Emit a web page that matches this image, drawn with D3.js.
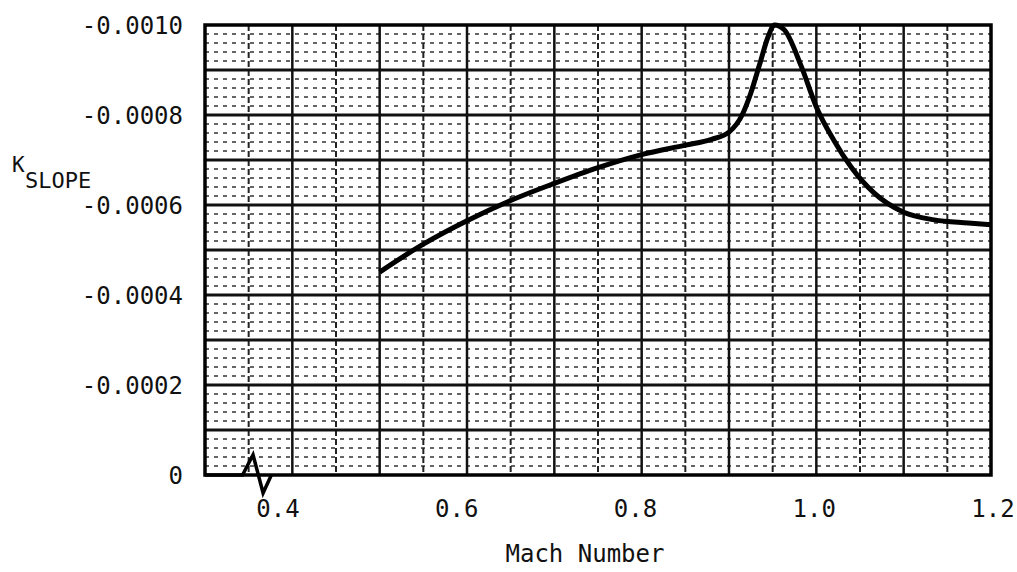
<!DOCTYPE html>
<head>
<meta charset="utf-8">
<title>K slope vs Mach</title>
<script src="https://d3js.org/d3.v7.min.js"></script>
<style>
body { margin: 0; background: #fff; }
text { font-family: "DejaVu Sans Mono", "Liberation Mono", monospace; fill: #111; }
</style>
</head>
<body>
<div id="container"></div>
<script>
//-----------------------------DATA-----------------------------//
const machTicks = [0.4, 0.6, 0.8, 1.0, 1.2];
const machTickLabels = ["0.4", "0.6", "0.8", "1.0", "1.2"];
const kTicks = [-0.0010, -0.0008, -0.0006, -0.0004, -0.0002, 0];
const kTickLabels = ["-0.0010", "-0.0008", "-0.0006", "-0.0004", "-0.0002", "0"];

// main curve
const curveMach = [0.50, 0.55, 0.60, 0.65, 0.70, 0.75, 0.80, 0.85, 0.88, 0.90, 0.915, 0.925, 0.935,
                   0.945, 0.952, 0.963, 0.983, 1.00, 1.02, 1.04, 1.066, 1.10, 1.135, 1.174, 1.20];
const curveK    = [-0.000451, -0.000513, -0.000565, -0.000610, -0.000648, -0.000683, -0.000712, -0.000733,
                   -0.000746, -0.000762, -0.000800, -0.000849, -0.000912, -0.000975, -0.001000, -0.000990,
                   -0.000907, -0.000818, -0.000744, -0.000684, -0.000627, -0.000584, -0.000567, -0.000560, -0.000556];

// little glitch drawn on the zero line
const zeroMach = [0.30, 0.343, 0.355, 0.3665, 0.376];
const zeroK    = [0, 0, -0.000045, 0.00004, 0];

//-----------------------------SVG------------------------------//
const width = 1017;
const height = 572;
const svg = d3.select("#container").append("svg")
    .attr("width", width)
    .attr("height", height);

//----------------------------SCALES----------------------------//
const xScale = d3.scaleLinear().domain([0.3, 1.2]).range([205, 991]);
const yScale = d3.scaleLinear().domain([0, -0.0010]).range([475, 25]);
// typed labels under the paper do not sit exactly on the grid
const labelScale = d3.scaleLinear().domain([0.4, 1.2]).range([278, 993]);

//----------------------------GRIDS-----------------------------//
// minor horizontal dotted lines every 0.00002
const minorY = d3.range(0, 51).map(i => -i * 0.00002).filter((d, i) => i % 5 !== 0);
svg.append("g")
    .selectAll("line")
    .data(minorY)
    .join("line")
    .attr("x1", xScale(0.3))
    .attr("x2", xScale(1.2))
    .attr("y1", d => yScale(d))
    .attr("y2", d => yScale(d))
    .attr("stroke", "#333")
    .attr("stroke-width", 1.6)
    .attr("stroke-dasharray", "4,5");

// half-way vertical dashed lines
const midX = d3.range(0, 9).map(i => 0.35 + i * 0.1);
svg.append("g")
    .selectAll("line")
    .data(midX)
    .join("line")
    .attr("x1", d => xScale(d))
    .attr("x2", d => xScale(d))
    .attr("y1", yScale(-0.0010))
    .attr("y2", yScale(0))
    .attr("stroke", "#222")
    .attr("stroke-width", 2)
    .attr("stroke-dasharray", "6,3");

// major lines
const majorX = d3.range(1, 9).map(i => 0.3 + i * 0.1);
svg.append("g")
    .selectAll("line")
    .data(majorX)
    .join("line")
    .attr("x1", d => xScale(d))
    .attr("x2", d => xScale(d))
    .attr("y1", yScale(-0.0010))
    .attr("y2", yScale(0))
    .attr("stroke", "#111")
    .attr("stroke-width", 2.5);

const majorY = d3.range(1, 10).map(i => -i * 0.0001);
svg.append("g")
    .selectAll("line")
    .data(majorY)
    .join("line")
    .attr("x1", xScale(0.3))
    .attr("x2", xScale(1.2))
    .attr("y1", d => yScale(d))
    .attr("y2", d => yScale(d))
    .attr("stroke", "#111")
    .attr("stroke-width", 3);

// frame
svg.append("rect")
    .attr("x", xScale(0.3))
    .attr("y", yScale(-0.0010))
    .attr("width", xScale(1.2) - xScale(0.3))
    .attr("height", yScale(0) - yScale(-0.0010))
    .attr("fill", "none")
    .attr("stroke", "#000")
    .attr("stroke-width", 3.5);

//----------------------------LINES-----------------------------//
const line = d3.line()
    .x(d => xScale(d[0]))
    .y(d => yScale(d[1]))
    .curve(d3.curveMonotoneX);

svg.append("path")
    .attr("d", line(d3.zip(curveMach, curveK)))
    .attr("fill", "none")
    .attr("stroke", "#000")
    .attr("stroke-width", 5)
    .attr("stroke-linejoin", "round");

svg.append("path")
    .attr("d", d3.line().x(d => xScale(d[0])).y(d => yScale(d[1]))(d3.zip(zeroMach, zeroK)))
    .attr("fill", "none")
    .attr("stroke", "#000")
    .attr("stroke-width", 3.5);

//-----------------------------AXES-----------------------------//
svg.append("g")
    .selectAll("text")
    .data(d3.zip(kTicks, kTickLabels))
    .join("text")
    .attr("x", 183)
    .attr("y", d => yScale(d[0]) + 9)
    .attr("text-anchor", "end")
    .style("font-size", "24px")
    .text(d => d[1]);

svg.append("g")
    .selectAll("text")
    .data(d3.zip(machTicks, machTickLabels))
    .join("text")
    .attr("x", d => labelScale(d[0]))
    .attr("y", 517)
    .attr("text-anchor", "middle")
    .style("font-size", "24px")
    .text(d => d[1]);

svg.append("text")
    .attr("x", 585)
    .attr("y", 562)
    .attr("text-anchor", "middle")
    .style("font-size", "24px")
    .text("Mach Number");

svg.append("text")
    .attr("x", 12)
    .attr("y", 172)
    .style("font-size", "21px")
    .text("K");

svg.append("text")
    .attr("x", 25)
    .attr("y", 188)
    .style("font-size", "22px")
    .text("SLOPE");
</script>
</body>
